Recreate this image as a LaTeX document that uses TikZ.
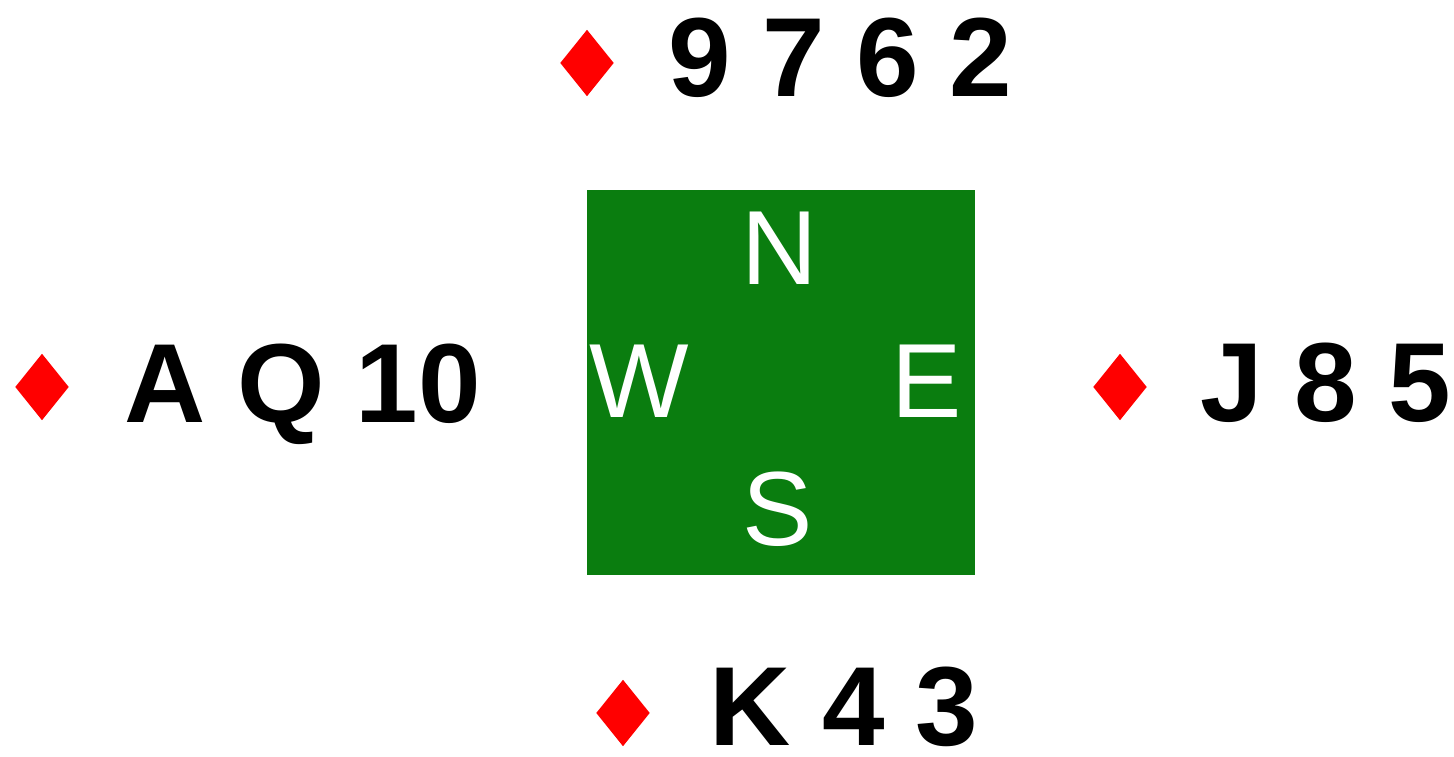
\documentclass[tikz,border=0pt]{standalone}
\usepackage{fontspec}
\setmainfont{Liberation Sans}
\usetikzlibrary{shapes.geometric,positioning}
\definecolor{feltgreen}{RGB}{10,125,15}

\begin{document}
\begin{tikzpicture}[
    hand/.style={anchor=base west, inner sep=0pt, font=\fontsize{32}{38}\selectfont\bfseries},
    suit/.style={diamond, fill=red, minimum width=0.54cm, minimum height=0.67cm, inner sep=0pt},
    seat/.style={anchor=base, inner sep=0pt, text=white, font=\fontsize{30}{36}\selectfont},
    board/.style={fill=feltgreen, minimum width=3.88cm, minimum height=3.85cm, inner sep=0pt}
]
\useasboundingbox (0,0) rectangle (14.54,7.57);
% table
\node[board] (table) at (7.81,3.745) {};
\node[seat] (seatN) at (7.80,4.72) {N};
\node[seat] (seatW) at (6.39,3.39) {W};
\node[seat] (seatE) at (9.27,3.39) {E};
\node[seat] (seatS) at (7.78,2.11) {S};
% hands
\node[suit] (suitN) at (5.87,6.94) {};
\node[hand] (handN) at (6.68,6.60) {9 7 6 2};
\node[suit] (suitW) at (0.42,3.70) {};
\node[hand] (handW) at (1.24,3.34) {A Q 10};
\node[suit] (suitE) at (11.20,3.70) {};
\node[hand] (handE) at (12.00,3.35) {J 8 5};
\node[suit] (suitS) at (6.23,0.44) {};
\node[hand] (handS) at (7.09,0.11) {K 4 3};
\end{tikzpicture}
\end{document}
